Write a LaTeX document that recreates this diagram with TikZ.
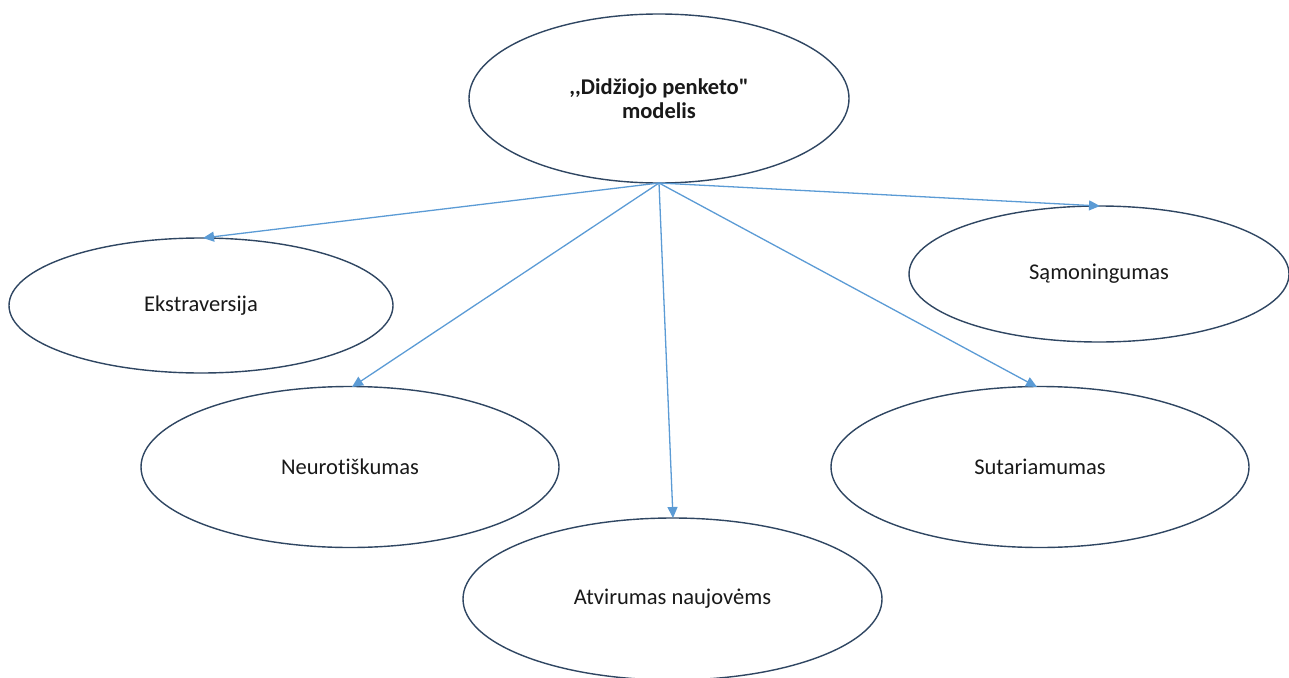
\documentclass[tikz,border=0pt]{standalone}
\usepackage{fontspec}
\setmainfont{Carlito}[Ligatures={TeXOff,CommonOff}]
\usetikzlibrary{shapes.geometric,arrows.meta}
\definecolor{edgeblue}{RGB}{47,70,98}
\definecolor{arrowblue}{RGB}{91,155,213}
\tikzset{
  oval/.style={ellipse, draw=edgeblue, line width=1.4pt, fill=white, inner sep=0pt, outer sep=0pt,
    font=\fontsize{22.5}{24.5}\selectfont, text=black!90, align=center},
  link/.style={draw=arrowblue, line width=1.3pt, -{Triangle[length=11pt,width=10pt]}}
}
\begin{document}
\begin{tikzpicture}[x=1pt,y=-1pt]
\useasboundingbox (0,0) rectangle (1289,677);
\node[oval, minimum width=380pt, minimum height=169pt] (top) at (659,98.5) {\textbf{,,Didžiojo penketo"}\\\textbf{modelis}};
\node[oval, minimum width=384pt, minimum height=135pt] (ext) at (201,305.5) {Ekstraversija};
\node[oval, minimum width=380pt, minimum height=136pt] (sam) at (1099,274) {Sąmoningumas};
\node[oval, minimum width=418pt, minimum height=161pt] (neu) at (350,467) {Neurotiškumas};
\node[oval, minimum width=418pt, minimum height=161pt] (sut) at (1040,467) {Sutariamumas};
\node[oval, minimum width=419pt, minimum height=162pt] (atv) at (672.5,599) {Atvirumas naujovėms};
\coordinate (s) at (top.south);
\coordinate (tE) at (203,238);
\coordinate (tN) at (352,387);
\coordinate (tA) at (673,518);
\coordinate (tS) at (1037,387);
\coordinate (tM) at (1100,206);
\draw[link] (s) -- (tE);
\draw[link] (s) -- (tN);
\draw[link] (s) -- (tA);
\draw[link] (s) -- (tS);
\draw[link] (s) -- (tM);
\end{tikzpicture}
\end{document}
